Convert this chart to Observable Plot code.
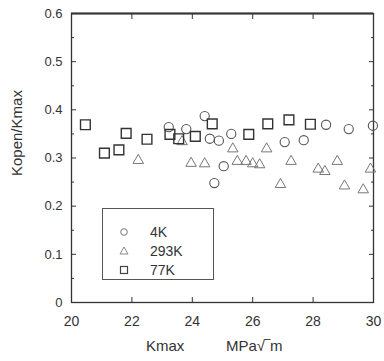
<!DOCTYPE html>
<html>
<head>
<meta charset="utf-8">
<script src="https://cdn.jsdelivr.net/npm/d3@7"></script>
<script src="https://cdn.jsdelivr.net/npm/@observablehq/plot@0.6"></script>
<style>
  body { margin: 0; background: #fff; }
  #wrap { position: relative; width: 384px; height: 361px; font-family: "Liberation Sans", Arial, sans-serif; }
  #legend { position: absolute; left: 102px; top: 208px; width: 112px; height: 72px; border: 1px solid #555; box-sizing: border-box; background: #fff; }
  .row { position: absolute; left: 0; height: 16px; width: 110px; }
  .row svg { position: absolute; left: 13px; top: 0; }
  .row span { position: absolute; left: 47px; top: 0; font-size: 14px; line-height: 16px; color: #333; }
</style>
</head>
<body>
<div id="wrap"></div>
<script>
// 4K (circles)
const k4x = [23.22, 23.80, 24.41, 24.58, 24.88, 25.29, 24.73, 25.04, 27.06, 27.69, 28.43, 29.18, 29.98];
const k4y = [0.364, 0.360, 0.387, 0.340, 0.336, 0.350, 0.248, 0.283, 0.333, 0.337, 0.369, 0.360, 0.367];
// 293K (triangles)
const k293x = [22.21, 23.66, 23.96, 24.41, 25.34, 25.49, 25.78, 26.00, 26.23, 26.46, 26.92, 27.27, 28.17, 28.39, 28.80, 29.04, 29.66, 29.90];
const k293y = [0.295, 0.334, 0.289, 0.288, 0.319, 0.293, 0.293, 0.288, 0.286, 0.319, 0.245, 0.293, 0.277, 0.272, 0.293, 0.242, 0.234, 0.277];
// 77K (squares)
const k77x = [20.46, 21.09, 21.57, 21.81, 22.50, 23.26, 23.55, 24.10, 24.66, 25.87, 26.50, 27.20, 27.91];
const k77y = [0.369, 0.310, 0.317, 0.351, 0.339, 0.349, 0.340, 0.345, 0.371, 0.349, 0.371, 0.379, 0.370];

const seriesNames = ["4K", "293K", "77K"];
const xTicks = [20, 22, 24, 26, 28, 30];
const yTicks = [0, 0.1, 0.2, 0.3, 0.4, 0.5, 0.6];
const yMinor = [0.05, 0.15, 0.25, 0.35, 0.45, 0.55];
const xInnerTicks = [22, 24, 26, 28];
const xLabel = "Kmax";
const xUnit = "MPa\u221A\u203Em";
const yLabel = "Kopen/Kmax";

const toRows = (xs, ys) => xs.map((x, i) => ({x, y: ys[i]}));
const d4 = toRows(k4x, k4y);
const d293 = toRows(k293x, k293y);
const d77 = toRows(k77x, k77y);

const ink = "#333";
const nb = "\u00A0";

const chart = Plot.plot({
  width: 384,
  height: 361,
  marginLeft: 71,
  marginRight: 11,
  marginTop: 13,
  marginBottom: 59,
  style: {fontFamily: "'Liberation Sans', Arial, sans-serif", color: ink, background: "#fff"},
  x: {domain: [20, 30]},
  y: {domain: [0, 0.6]},
  marks: [
    Plot.frame({stroke: ink, strokeWidth: 1.3}),
    Plot.ruleY([yTicks[yTicks.length - 1]], {stroke: ink, strokeWidth: 2}),
    // inward ticks
    Plot.axisY({anchor: "left", ticks: yTicks, tickSize: -5, tickFormat: () => "", label: null, stroke: ink}),
    Plot.axisY({anchor: "left", ticks: yMinor, tickSize: -3, tickFormat: () => "", label: null, stroke: ink}),
    Plot.axisY({anchor: "right", ticks: yTicks, tickSize: -5, tickFormat: () => "", label: null, stroke: ink}),
    Plot.axisY({anchor: "right", ticks: yMinor, tickSize: -3, tickFormat: () => "", label: null, stroke: ink}),
    Plot.axisX({anchor: "bottom", ticks: xInnerTicks, tickSize: -5, tickFormat: () => "", label: null, stroke: ink}),
    Plot.axisX({anchor: "top", ticks: xInnerTicks, tickSize: -5, tickFormat: () => "", label: null, stroke: ink}),
    // tick labels
    Plot.axisY({anchor: "left", ticks: yTicks, tickSize: 0, tickPadding: 9, fontSize: 13,
      tickFormat: d => d === 0 ? "0" : d.toFixed(1), label: null}),
    Plot.axisX({anchor: "bottom", ticks: xTicks, tickSize: 0, tickPadding: 14, fontSize: 14,
      tickFormat: d => String(d), label: null}),
    // axis titles
    Plot.text([xLabel + nb.repeat(10) + xUnit + nb.repeat(4)], {frameAnchor: "bottom", dy: 48, fontSize: 15, fill: ink}),
    Plot.text([yLabel], {frameAnchor: "left", rotate: -90, dx: -54, dy: 18, fontSize: 15, fill: ink}),
    // data
    Plot.dot(d4, {x: "x", y: "y", symbol: "circle", r: 4.6, stroke: "#555", strokeWidth: 1.1, fill: "none"}),
    Plot.dot(d293, {x: "x", y: "y", symbol: "triangle", r: 3.9, stroke: "#777", strokeWidth: 1, fill: "none"}),
    Plot.dot(d77, {x: "x", y: "y", symbol: "square", r: 5.5, stroke: "#333", strokeWidth: 1.4, fill: "none"})
  ]
});

const wrap = document.getElementById("wrap");
wrap.appendChild(chart);

// legend
const legend = document.createElement("div");
legend.id = "legend";
const symbols = [
  '<circle cx="8" cy="8" r="3.3" fill="none" stroke="#777" stroke-width="1"/>',
  '<path d="M8,4 L12,11 L4,11 Z" fill="none" stroke="#888" stroke-width="1"/>',
  '<rect x="4.5" y="4.5" width="7" height="7" fill="none" stroke="#444" stroke-width="1.2"/>'
];
const rowTops = [15, 34, 53];
seriesNames.forEach((name, i) => {
  const row = document.createElement("div");
  row.className = "row";
  row.style.top = rowTops[i] + "px";
  row.innerHTML = `<svg width="16" height="16">${symbols[i]}</svg><span>${name}</span>`;
  legend.appendChild(row);
});
wrap.appendChild(legend);
</script>
</body>
</html>
